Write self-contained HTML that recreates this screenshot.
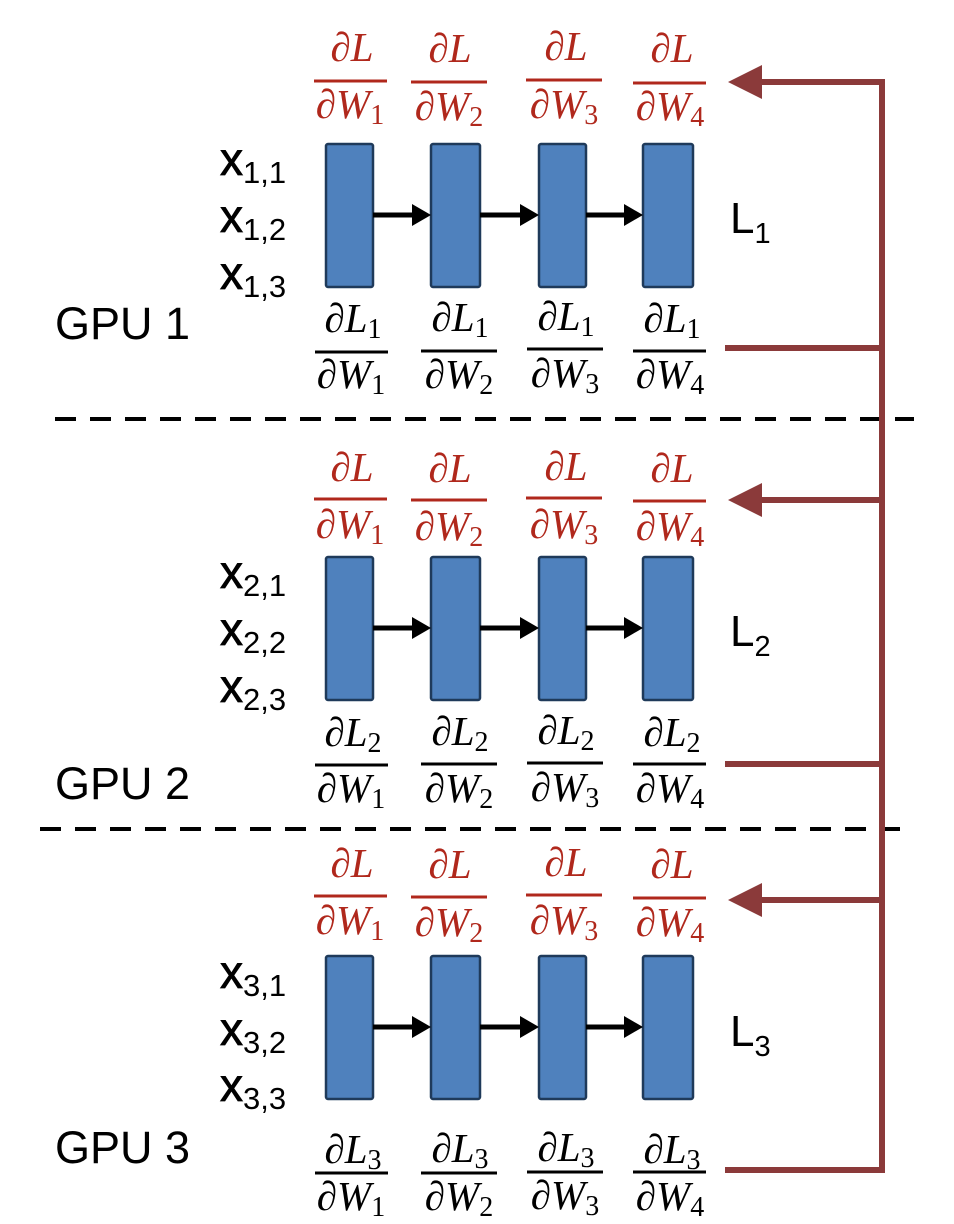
<!DOCTYPE html>
<html><head><meta charset="utf-8"><style>
html,body{margin:0;padding:0;background:#fff;}
svg{display:block;}
.m{font-family:"Liberation Serif","DejaVu Serif",serif;font-style:italic;font-size:41px;}
.s{font-style:normal;font-size:28px;}
.a{font-family:"Liberation Sans",Arial,sans-serif;}
</style></head><body>
<svg width="954" height="1224" viewBox="0 0 954 1224" xmlns="http://www.w3.org/2000/svg">
<line x1="55" y1="419" x2="914" y2="419" stroke="#000" stroke-width="4" stroke-dasharray="21,14"/>
<line x1="40" y1="829" x2="900" y2="829" stroke="#000" stroke-width="4" stroke-dasharray="21,14"/>
<g stroke="#8b3a3a" stroke-width="6" fill="none">
<path d="M882,82 L882,1170"/>
<path d="M760,82 L885,82"/>
<path d="M760,500 L882,500"/>
<path d="M760,900 L882,900"/>
<path d="M725,348 L882,348"/>
<path d="M725,764 L882,764"/>
<path d="M725,1170 L885,1170"/>
</g>
<g fill="#8b3a3a">
<path d="M728,82 L762,65 L762,99 z"/>
<path d="M728,500 L762,483 L762,517 z"/>
<path d="M728,900 L762,883 L762,917 z"/>
</g>
<g id="p1">
<g fill="#4f81bd" stroke="#1f3a5a" stroke-width="2.5">
<rect x="326" y="144" width="47" height="143" rx="2"/>
<rect x="431" y="144" width="49" height="143" rx="2"/>
<rect x="539" y="144" width="47" height="143" rx="2"/>
<rect x="643" y="144" width="50" height="143" rx="2"/>
</g>
<g stroke="#000" stroke-width="5">
<line x1="373" y1="215" x2="415" y2="215"/>
<line x1="480" y1="215" x2="523" y2="215"/>
<line x1="586" y1="215" x2="627" y2="215"/>
</g>
<g fill="#000">
<path d="M431,215 L412,204 L412,226 z"/>
<path d="M539,215 L520,204 L520,226 z"/>
<path d="M643,215 L624,204 L624,226 z"/>
</g>
</g>
<use href="#p1" y="413"/>
<use href="#p1" y="812"/>
<g fill="#b0281c" class="m" text-anchor="middle">
<g id="tf">
<text x="352" y="61">∂L</text><text x="350" y="118">∂W<tspan class="s" dy="6">1</tspan></text>
<text x="450" y="62">∂L</text><text x="449" y="120">∂W<tspan class="s" dy="6">2</tspan></text>
<text x="566" y="60">∂L</text><text x="564" y="118">∂W<tspan class="s" dy="6">3</tspan></text>
<text x="672" y="62">∂L</text><text x="670" y="120">∂W<tspan class="s" dy="6">4</tspan></text>
</g>
<use href="#tf" y="420"/>
<use href="#tf" y="816"/>
</g>
<g stroke="#b0281c" stroke-width="3">
<g id="tl">
<line x1="314" y1="81" x2="387" y2="81"/>
<line x1="411" y1="82" x2="487" y2="82"/>
<line x1="526" y1="80" x2="602" y2="80"/>
<line x1="633" y1="83" x2="706" y2="83"/>
</g>
<use href="#tl" y="418"/>
<use href="#tl" y="815"/>
</g>
<g fill="#000" class="m" text-anchor="middle">
<text x="353" y="332">∂L<tspan class="s" dy="6">1</tspan></text><text x="351" y="388">∂W<tspan class="s" dy="6">1</tspan></text>
<text x="460" y="331">∂L<tspan class="s" dy="6">1</tspan></text><text x="459" y="388">∂W<tspan class="s" dy="6">2</tspan></text>
<text x="566" y="330">∂L<tspan class="s" dy="6">1</tspan></text><text x="565" y="387">∂W<tspan class="s" dy="6">3</tspan></text>
<text x="672" y="332">∂L<tspan class="s" dy="6">1</tspan></text><text x="670" y="388">∂W<tspan class="s" dy="6">4</tspan></text>

<text x="353" y="746">∂L<tspan class="s" dy="6">2</tspan></text><text x="351" y="802">∂W<tspan class="s" dy="6">1</tspan></text>
<text x="460" y="745">∂L<tspan class="s" dy="6">2</tspan></text><text x="459" y="802">∂W<tspan class="s" dy="6">2</tspan></text>
<text x="566" y="744">∂L<tspan class="s" dy="6">2</tspan></text><text x="565" y="801">∂W<tspan class="s" dy="6">3</tspan></text>
<text x="672" y="746">∂L<tspan class="s" dy="6">2</tspan></text><text x="670" y="802">∂W<tspan class="s" dy="6">4</tspan></text>

<text x="353" y="1163">∂L<tspan class="s" dy="6">3</tspan></text><text x="351" y="1210">∂W<tspan class="s" dy="6">1</tspan></text>
<text x="460" y="1162">∂L<tspan class="s" dy="6">3</tspan></text><text x="459" y="1210">∂W<tspan class="s" dy="6">2</tspan></text>
<text x="566" y="1161">∂L<tspan class="s" dy="6">3</tspan></text><text x="565" y="1209">∂W<tspan class="s" dy="6">3</tspan></text>
<text x="672" y="1163">∂L<tspan class="s" dy="6">3</tspan></text><text x="670" y="1210">∂W<tspan class="s" dy="6">4</tspan></text>
</g>
<g stroke="#000" stroke-width="3">
<line x1="315" y1="352" x2="388" y2="352"/>
<line x1="421" y1="351" x2="497" y2="351"/>
<line x1="527" y1="349" x2="603" y2="349"/>
<line x1="633" y1="351" x2="706" y2="351"/>
<line x1="315" y1="765" x2="388" y2="765"/>
<line x1="421" y1="764" x2="497" y2="764"/>
<line x1="527" y1="763" x2="603" y2="763"/>
<line x1="633" y1="764" x2="706" y2="764"/>
<line x1="315" y1="1173" x2="388" y2="1173"/>
<line x1="421" y1="1173" x2="497" y2="1173"/>
<line x1="527" y1="1172" x2="603" y2="1172"/>
<line x1="633" y1="1172" x2="706" y2="1172"/>
</g>
<g class="a" fill="#000" font-size="46" stroke="#000" stroke-width="0.8">
<text x="220" y="175">x<tspan font-size="31" dy="8" stroke-width="0">1,1</tspan></text>
<text x="220" y="232">x<tspan font-size="31" dy="8" stroke-width="0">1,2</tspan></text>
<text x="220" y="289">x<tspan font-size="31" dy="8" stroke-width="0">1,3</tspan></text>
<text x="220" y="588">x<tspan font-size="31" dy="8" stroke-width="0">2,1</tspan></text>
<text x="220" y="645">x<tspan font-size="31" dy="8" stroke-width="0">2,2</tspan></text>
<text x="220" y="702">x<tspan font-size="31" dy="8" stroke-width="0">2,3</tspan></text>
<text x="220" y="988">x<tspan font-size="31" dy="8" stroke-width="0">3,1</tspan></text>
<text x="220" y="1045">x<tspan font-size="31" dy="8" stroke-width="0">3,2</tspan></text>
<text x="220" y="1101">x<tspan font-size="31" dy="8" stroke-width="0">3,3</tspan></text>
</g>
<g class="a" fill="#000" font-size="44">
<text x="730" y="233">L<tspan font-size="29" dy="10">1</tspan></text>
<text x="730" y="646">L<tspan font-size="29" dy="10">2</tspan></text>
<text x="730" y="1046">L<tspan font-size="29" dy="10">3</tspan></text>
</g>
<g class="a" fill="#000" font-size="45">
<text x="55" y="339">GPU 1</text>
<text x="55" y="799">GPU 2</text>
<text x="55" y="1163">GPU 3</text>
</g>
</svg>
</body></html>
